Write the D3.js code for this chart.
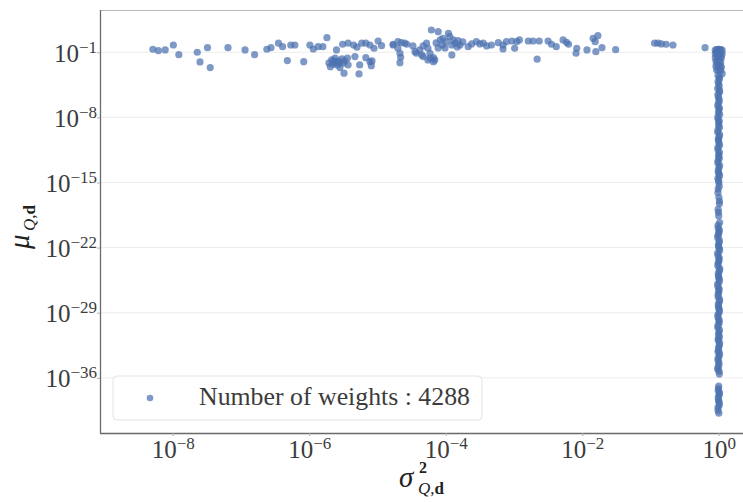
<!DOCTYPE html>
<html><head><meta charset="utf-8">
<script src="https://cdn.jsdelivr.net/npm/d3@7/dist/d3.min.js"></script>
<style>
body{margin:0;background:#fff;}
text{font-family:"Liberation Serif","DejaVu Serif",serif;}
</style>
</head><body>
<svg id="c" width="743" height="502"></svg>
<script>
// ---- data (log10 of the plotted values) ----
const offLog10Sigma2 = [
-8.29,-8.21,-8.11,-7.99,-7.91,-7.64,-7.60,-7.49,-7.45,-7.19,
-6.94,-6.80,-6.62,-6.56,-6.45,-6.39,-6.27,-6.21,-5.99,-5.94,
-5.87,-5.80,-5.74,-5.60,-5.51,-5.43,-5.35,-5.30,-5.23,-5.17,
-5.11,-5.05,-4.99,-4.94,-6.32,-6.08,-5.67,-5.62,-5.57,-5.52,
-5.65,-5.59,-5.50,-5.69,-5.55,-5.61,-5.43,-5.33,-5.26,-5.17,
-5.11,-5.49,-5.27,-5.09,-5.08,-5.44,-5.64,-5.56,-5.48,-5.71,
-4.77,-4.70,-4.65,-4.60,-4.70,-4.67,-4.66,-4.67,-4.48,-4.43,
-4.38,-4.33,-4.28,-4.26,-4.23,-4.21,-4.18,-4.16,-4.11,-4.08,
-4.04,-3.99,-3.96,-3.94,-3.91,-3.89,-3.91,-3.86,-3.82,-3.79,
-3.67,-3.62,-3.55,-3.50,-3.45,-3.40,-3.33,-3.23,-3.16,-3.11,
-4.23,-4.18,-4.26,-4.33,-4.45,-4.14,-4.05,-4.01,-4.11,-3.83,
-3.75,-3.16,-3.03,-2.99,-2.96,-2.92,-2.79,-2.72,-2.63,-2.50,
-2.45,-2.38,-2.28,-2.23,-2.20,-2.08,-2.09,-1.93,-1.84,-1.77,
-1.81,-1.80,-1.71,-1.51,-2.66,-0.94,-0.89,-0.84,-0.77,-0.67,
-0.20,-4.77,-4.57,-4.35];
const offLog10Mu = [
-0.68,-0.83,-0.75,-0.22,-1.26,-1.00,-2.04,-0.51,-2.65,-0.51,
-0.75,-1.26,-0.68,-0.51,-0.03,-0.40,-0.22,-0.22,-0.22,-0.65,
-0.40,-0.40,0.57,-0.75,-0.14,-0.03,-0.22,-0.46,-0.03,-0.03,
-0.22,-0.57,0.21,-0.29,-1.90,-2.01,-1.83,-1.64,-1.93,-1.72,
-2.29,-2.36,-2.18,-2.55,-2.65,-2.07,-2.36,-1.47,-2.36,-1.58,
-2.01,-3.25,-3.33,-2.44,-1.93,-1.64,-1.93,-2.15,-1.93,-2.15,
-0.22,0.14,0.03,-0.03,-0.57,-1.11,-1.54,-2.12,-0.32,-1.11,
-0.75,-0.32,-0.03,-0.57,-1.11,1.39,-1.58,-1.83,1.21,0.32,
0.50,0.14,1.04,0.67,-0.22,0.32,-1.29,-0.03,0.24,-0.22,
-0.40,-0.11,0.14,-0.11,-0.03,-0.32,-0.22,0.03,-0.22,0.14,
-1.64,-2.01,-1.83,-1.47,-0.94,0.00,-0.22,-0.54,-0.54,-0.43,
0.11,-0.65,0.21,-0.57,0.14,0.32,0.21,0.21,0.21,0.21,
-0.14,-0.40,0.32,0.07,-0.14,-0.57,-1.11,-0.75,0.50,0.78,
0.14,-0.94,-0.51,-0.72,-1.75,-0.03,-0.03,-0.11,-0.14,-0.22,
-0.51,-0.14,-0.14,-1.29];
const colLog10Sigma2 = [
-0.05,-0.03,-0.01,0.01,0.03,0.05,-0.05,-0.03,-0.01,0.01,
0.03,0.05,-0.05,-0.02,0.0,0.02,0.04,-0.04,-0.02,0.01,
0.03,-0.04,-0.01,0.02,0.04,-0.03,0.0,0.03,0.05,
-0.01,0.01,0.0,-0.015,0.012,-0.005,0.008,-0.012,0.004,0.014,
-0.008,0.0,0.011,-0.014,0.006,-0.003,0.013,-0.01,0.002,0.009,
-0.013,0.005,-0.006,0.012,-0.002,0.007,-0.011,0.003,0.01,-0.009,
0.0,0.014,-0.007,0.004,-0.012,0.009,-0.004,0.011,-0.015,0.006,
0.001,-0.01,0.013,-0.003,0.008,-0.013,0.005,0.0,-0.008,0.012,
-0.005,0.01,-0.011,0.003,0.007,-0.014,0.002,0.011,-0.006,0.009,
-0.002,0.013,-0.009,0.004,-0.012,0.006,0.0,-0.007,0.01,-0.003,
0.008,-0.01,0.002];
const colLog10Mu = [
-0.78,-0.72,-0.70,-0.70,-0.72,-0.78,-1.15,-1.05,-1.00,-1.05,
-1.10,-1.20,-1.60,-1.50,-1.45,-1.55,-1.60,-2.00,-2.10,-2.00,
-2.10,-2.50,-2.45,-2.50,-2.60,-2.90,-3.00,-2.95,-3.30,
-3.5,-3.9,-4.4,-4.9,-5.3,-5.8,-6.3,-6.8,-7.2,-7.7,
-8.2,-8.6,-9.1,-9.6,-10.1,-10.5,-11.0,-11.5,-12.0,-12.4,
-12.9,-13.4,-13.9,-14.3,-14.8,-15.4,-16.1,-16.6,-17.3,-17.9,
-18.6,-19.3,-19.9,-20.3,-20.7,-21.2,-21.7,-22.1,-22.6,-23.1,
-23.5,-24.0,-24.5,-25.0,-25.4,-25.9,-26.4,-26.8,-27.3,-27.8,
-28.3,-28.7,-29.2,-29.7,-30.1,-30.6,-31.1,-31.6,-32.0,-32.5,
-33.0,-33.4,-33.9,-34.4,-34.9,-35.3,-36.9,-37.4,-37.8,-38.3,
-38.7,-39.2,-39.8];
const colBLog10Sigma2 = [
0.01,-0.01,0.006,0.013,-0.012,0.004,-0.008,0.011,-0.004,-0.013,
0.008,0.0,-0.011,0.014,-0.006,0.003,-0.013,0.01,-0.002,-0.009,
0.013,-0.005,0.006,-0.012,0.002,-0.007,0.011,-0.003,-0.01,0.009,
0.0,-0.014,0.007,-0.004,0.012,-0.009,0.004,-0.011,0.015,-0.006,
-0.001,0.01,-0.013,0.003,-0.008,0.013,-0.005,0.0,0.008,-0.012,
0.005,-0.01,0.011,-0.003,-0.007,0.014,-0.002,-0.011,0.006,-0.009,
0.002,-0.013,0.009,-0.004,0.012,-0.006,0.0,0.007,-0.01];
const colBLog10Mu = [
-3.7,-4.15,-4.65,-5.1,-5.55,-6.05,-6.55,-7.0,-7.45,-7.95,
-8.4,-8.85,-9.35,-9.85,-10.3,-10.75,-11.25,-11.75,-12.2,-12.65,
-13.15,-13.65,-14.1,-14.55,-15.0,-15.7,-17.0,-18.2,-19.6,-20.1,
-20.5,-20.95,-21.45,-21.9,-22.35,-22.85,-23.3,-23.75,-24.25,-24.75,
-25.2,-25.65,-26.15,-26.6,-27.05,-27.55,-28.05,-28.5,-28.95,-29.45,
-29.9,-30.35,-30.85,-31.35,-31.8,-32.25,-32.75,-33.2,-33.65,-34.15,
-34.65,-35.1,-35.6,-37.15,-37.6,-38.05,-38.5,-38.95,-39.5];
const xTickExps = [-8,-6,-4,-2,0];
const yTickExps = [-1,-8,-15,-22,-29,-36];
const legendLabel = "Number of weights : 4288";

// ---- drawing ----
const svg = d3.select("#c");
const L=100, R=743, T=10, B=433;
const x = d3.scaleLog().domain([Math.pow(10,-9.065), Math.pow(10,0.356)]).range([L,R]);
const y = d3.scaleLog().domain([Math.pow(10,-41.93), Math.pow(10,3.54)]).range([B,T]);
const dotColor = "#4c72b0";
const textColor = "#3c3c3c";

// horizontal grid
svg.append("g").selectAll("line").data(yTickExps).join("line")
  .attr("x1",L).attr("x2",R)
  .attr("y1",d=>y(Math.pow(10,d))).attr("y2",d=>y(Math.pow(10,d)))
  .attr("stroke","#ececec").attr("stroke-width",1);

// top spine
svg.append("line").attr("x1",L).attr("x2",R).attr("y1",T+0.5).attr("y2",T+0.5)
  .attr("stroke","#b8b8b8").attr("stroke-width",1.2);

// axes
const xAxis = d3.axisBottom(x).tickValues(xTickExps.map(e=>Math.pow(10,e)))
  .tickFormat(()=>"").tickSize(3).tickSizeOuter(0);
const yAxis = d3.axisLeft(y).tickValues(yTickExps.map(e=>Math.pow(10,e)))
  .tickFormat(()=>"").tickSize(3).tickSizeOuter(0);

const gx = svg.append("g").attr("transform",`translate(0,${B})`).call(xAxis);
const gy = svg.append("g").attr("transform",`translate(${L},0)`).call(yAxis);
[gx,gy].forEach(g=>{
  g.select(".domain").attr("stroke","#6a6a6a").attr("stroke-width",1.3);
  g.selectAll(".tick line").attr("stroke","#b0b0b0");
  g.selectAll(".tick text").remove();
});
gx.select(".domain").attr("d",`M${L},0.5H${R}`);
gy.select(".domain").attr("d",`M0.5,${T}V${B}`);

function expLabel(sel, e){
  sel.append("tspan").text("10");
  sel.append("tspan").attr("dy",-9).attr("font-size",17).text(e<0 ? "\u2212"+(-e) : String(e));
}
gx.selectAll(".tick").each(function(d,i){
  const t = d3.select(this).append("text")
    .attr("x",0).attr("y",25).attr("text-anchor","middle")
    .attr("fill",textColor).attr("font-size",25);
  expLabel(t, xTickExps[i]);
});
gy.selectAll(".tick").each(function(d,i){
  const t = d3.select(this).append("text")
    .attr("x",-3).attr("y",9).attr("text-anchor","end")
    .attr("fill",textColor).attr("font-size",25);
  expLabel(t, yTickExps[i]);
});

// points
const pts = offLog10Sigma2.map((s,i)=>({s, m:offLog10Mu[i]}))
  .concat(colLog10Sigma2.map((s,i)=>({s, m:colLog10Mu[i]})))
  .concat(colBLog10Sigma2.map((s,i)=>({s, m:colBLog10Mu[i]})));
svg.append("g").selectAll("circle").data(pts).join("circle")
  .attr("cx",d=>x(Math.pow(10,d.s)))
  .attr("cy",d=>y(Math.pow(10,d.m)))
  .attr("r",3.6)
  .attr("fill",dotColor).attr("fill-opacity",0.72);

// axis labels
const xl = svg.append("g").attr("fill","#222");
xl.append("text").attr("x",399).attr("y",487).attr("font-size",29)
  .attr("font-style","italic").text("σ");
xl.append("text").attr("x",419).attr("y",473).attr("font-size",16)
  .attr("font-weight","bold").text("2");
const xs = xl.append("text").attr("x",418).attr("y",494).attr("font-size",17);
xs.append("tspan").attr("font-style","italic").text("Q");
xs.append("tspan").text(",");
xs.append("tspan").attr("font-weight","bold").text("d");

const yl = svg.append("g").attr("fill","#222").attr("transform","translate(29,249) rotate(-90)");
yl.append("text").attr("x",0).attr("y",0).attr("font-size",29)
  .attr("font-style","italic").text("μ");
const ys = yl.append("text").attr("x",18).attr("y",6).attr("font-size",17);
ys.append("tspan").attr("font-style","italic").text("Q");
ys.append("tspan").text(",");
ys.append("tspan").attr("font-weight","bold").text("d");

// legend
const lg = svg.append("g");
lg.append("rect").attr("x",113).attr("y",376).attr("width",369).attr("height",44)
  .attr("rx",4).attr("fill","#fff").attr("fill-opacity",0.85)
  .attr("stroke","#e3e3e3").attr("stroke-width",1);
lg.append("circle").attr("cx",150).attr("cy",398).attr("r",3.3)
  .attr("fill",dotColor).attr("fill-opacity",0.72);
lg.append("text").attr("x",199).attr("y",405).attr("font-size",26)
  .attr("fill",textColor).attr("textLength",271).attr("lengthAdjust","spacingAndGlyphs")
  .text(legendLabel);
</script>
</body></html>
